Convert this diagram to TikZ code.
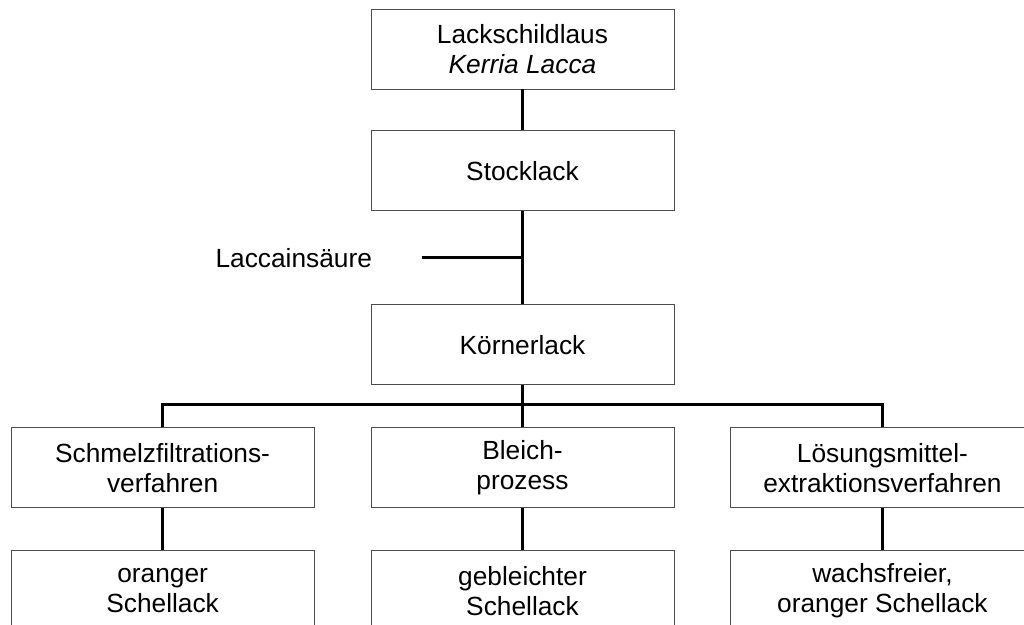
\documentclass[tikz,border=0pt]{standalone}
\usepackage{fontspec}
\setmainfont{Liberation Sans}
\usepackage{tikz}
\usetikzlibrary{positioning, calc}

\begin{document}
\begin{tikzpicture}[node distance=42pt, >=latex, line width=3pt]
    % Styles
    \tikzstyle{box} = [rectangle, draw=black!70, line width=0.9pt, fill=white, minimum width=303pt, minimum height=80pt, inner sep=0pt, align=center, font=\fontsize{26.3}{30}\selectfont]
    \tikzstyle{note} = [inner sep=0pt, font=\fontsize{26.3}{30}\selectfont]

    \useasboundingbox (0,0) rectangle (1024pt,624pt);

    % Nodes
    \node [box] (insect) at (522.5pt,575pt) {Lackschildlaus\\\textit{Kerria Lacca}};
    \node [box, below=41pt of insect] (stick) {Stocklack};
    \node [box, below=93pt of stick] (seed) {Körnerlack};
    \node [box, below=of seed] (bleach) {Bleich-\\prozess};
    \node [box, left=56pt of bleach] (melt) {Schmelzfiltrations-\\verfahren};
    \node [box, right=56pt of bleach] (solvent) {Lösungsmittel-\\extraktionsverfahren};
    \node [box, below=of melt] (orange) {oranger\\Schellack};
    \node [box, below=of bleach] (bleached) {gebleichter\\Schellack};
    \node [box, below=of solvent] (waxfree) {wachsfreier,\\oranger Schellack};

    \coordinate (branch) at ($(stick.south)!0.5!(seed.north)$);
    \coordinate (lacend) at ([xshift=-101pt]branch);
    \node [note, left=48pt of lacend] (dye) {Laccainsäure};
    \coordinate (bus) at ([yshift=-19pt]seed.south);

    % Connections
    \draw (insect.south) -- (stick.north);
    \draw (stick.south) -- (seed.north);
    \draw (lacend) -- (branch);

    % Processes
    \draw (seed.south) -- (bleach.north);
    \draw (melt.north) |- (bus) -| (solvent.north);

    % Products
    \draw (melt.south) -- (orange.north);
    \draw (bleach.south) -- (bleached.north);
    \draw (solvent.south) -- (waxfree.north);

\end{tikzpicture}
\end{document}
